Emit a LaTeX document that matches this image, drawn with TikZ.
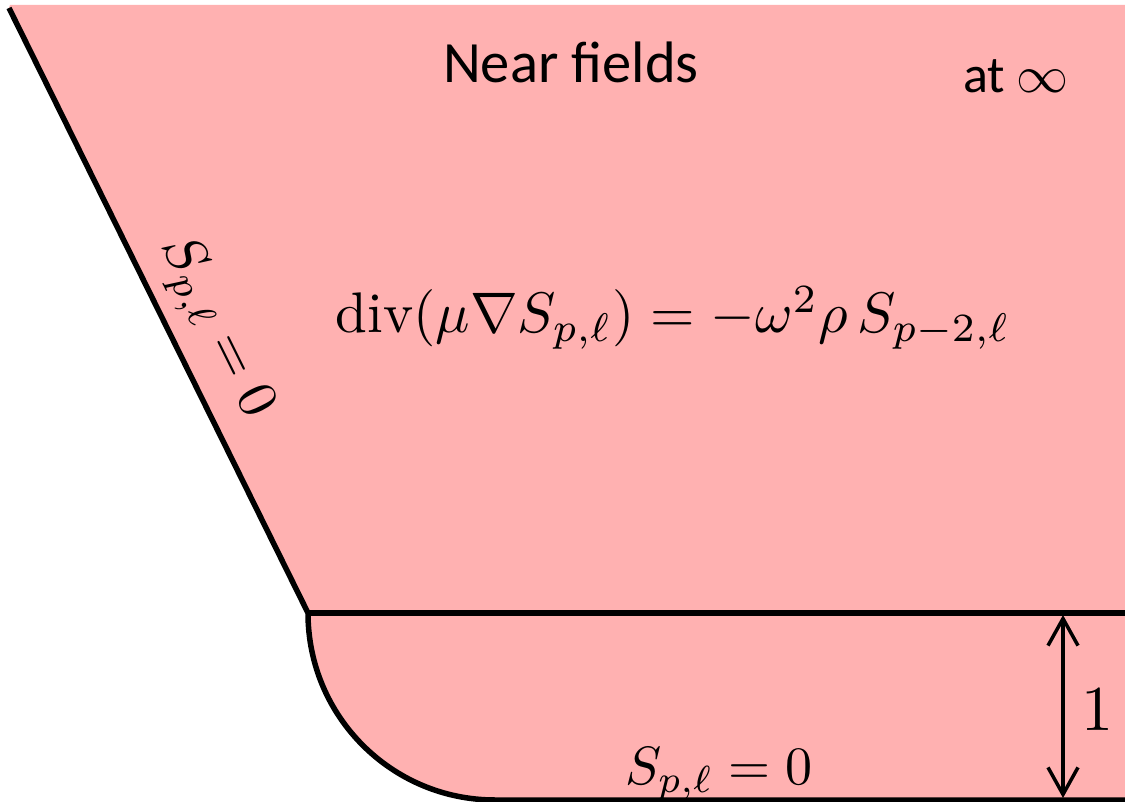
\documentclass[tikz,border=0pt]{standalone}
\usepackage{fontspec}
\newfontfamily\calibri{Carlito}
\usetikzlibrary{arrows.meta}
\definecolor{pinkfill}{RGB}{255,177,177}
\begin{document}
\begin{tikzpicture}[x=1pt,y=-1pt,
  bd/.style={line width=5.5pt,black},
  dimarrow/.style={line width=3.5pt,{Straight Barb[length=27pt,width=30pt]}-{Straight Barb[length=27pt,width=30pt]}},
  lbl/.style={inner sep=0pt,anchor=base,transform shape}]
\useasboundingbox (0,0) rectangle (1125,802);
\coordinate (tl) at (9,8);
\coordinate (corner) at (308,613);
\coordinate (rmid) at (1125,613);
\coordinate (arcend) at (495,800);
\coordinate (br) at (1125,800);
\coordinate (atop) at (1063,615);
\coordinate (abot) at (1063,798);
% pink region
\fill[pinkfill] (10,5) -- (1125,5) -- (1125,802) -- (495,802) -- (arcend)
  .. controls (391.7,800) and (308,716.3) .. (corner) -- (tl) -- cycle;
% boundaries
\draw[bd] (tl) -- (corner) .. controls (308,716.3) and (391.7,800) .. (arcend) -- (br);
\draw[bd] (corner) -- (rmid);
% dimension arrow
\draw[dimarrow] (atop) -- (abot);
% texts
\node[lbl,scale=5.85,font=\calibri] (title) at (571,83) {Near fields};
\node[lbl,scale=5.2,font=\calibri] (atinf) at (1016,93) {at $\infty$};
\node[lbl,scale=5.72] (eq) at (673,333)
  {$\mathrm{div}(\mu\nabla S_{p,\ell}) = -\omega^2\rho\,S_{p-2,\ell}$};
\node[lbl,scale=5.4] (bottomlbl) at (719,784) {$S_{p,\ell}=0$};
\node[lbl,scale=6.4] (one) at (1097,730) {$1$};
\node[lbl,rotate=-63.66,scale=5.6] (leftlbl) at (205,333) {$S_{p,\ell}=0$};
\end{tikzpicture}
\end{document}
